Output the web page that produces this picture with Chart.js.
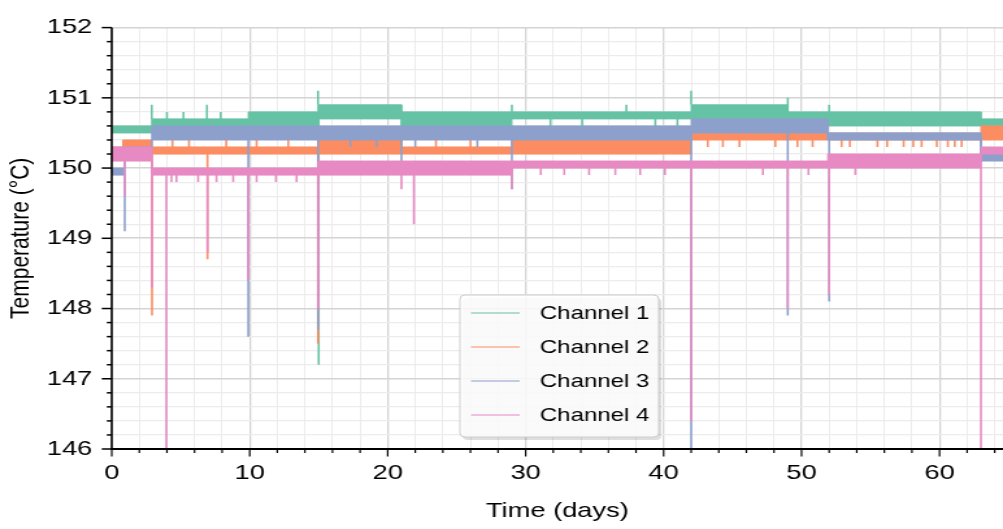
<!DOCTYPE html>
<html>
<head>
<meta charset="utf-8">
<script src="https://cdn.jsdelivr.net/npm/chart.js@4.4.1/dist/chart.umd.min.js"></script>
<style>
  html, body { margin: 0; padding: 0; background: #fff; overflow: hidden; }
  /* the reference picture is stretched sideways, so the canvas is too */
  #wrap { width: 772px; height: 529px; transform: scaleX(1.2992); transform-origin: 0 0; }
</style>
</head>
<body>
<div id="wrap"><canvas id="temps" width="772" height="529"></canvas></div>
<script>
const channelNames = ["Channel 1", "Channel 2", "Channel 3", "Channel 4"];
const channelColors = ["#66c2a5", "#fc8d62", "#8da0cb", "#e78ac3"];

// noise bands: [from day, to day, low degC, high degC]
const ch1Bands = [[0, 2.9, 150.5, 150.6], [2.9, 9.9, 150.6, 150.7], [9.9, 14.95, 150.6, 150.8],
  [14.95, 21, 150.7, 150.9], [21, 29, 150.6, 150.8], [29, 42, 150.7, 150.8],
  [42, 49, 150.7, 150.9], [49, 63, 150.6, 150.8], [63, 64.6, 150.6, 150.7]];
const ch2Bands = [[0, 0.8, 150.2, 150.3], [0.8, 2.9, 150.3, 150.4], [2.9, 9.9, 150.2, 150.3],
  [9.9, 14.95, 150.2, 150.3], [14.95, 21, 150.2, 150.4], [21, 29, 150.2, 150.3],
  [29, 42, 150.2, 150.4], [42, 63, 150.4, 150.5], [63, 64.6, 150.4, 150.6]];
const ch3Bands = [[0, 0.9, 149.9, 150.0], [0.9, 2.9, 150.2, 150.3], [2.9, 42, 150.4, 150.6],
  [42, 51.9, 150.5, 150.7], [51.9, 63, 150.4, 150.5], [63, 64.6, 150.1, 150.2]];
const ch4Bands = [[0, 2.9, 150.1, 150.3], [2.9, 14.95, 149.9, 150.0], [14.95, 29, 149.9, 150.1],
  [29, 42, 150.0, 150.1], [42, 49, 150.0, 150.1], [49, 51.9, 150.0, 150.1],
  [51.9, 63, 150.0, 150.2], [63, 64.6, 150.2, 150.3]];

// single excursions: [day, degC]
const ch1Spikes = [[2.9, 150.9], [4.0, 150.8], [5.2, 150.8], [6.9, 150.9], [7.9, 150.8], [14.95, 151.1],
  [15, 147.2], [29, 150.9], [31.8, 150.6], [34.1, 150.6], [37.3, 150.9], [39.4, 150.6], [41.0, 150.6],
  [42, 151.1], [49, 151.0], [52, 150.9]];
const ch2Spikes = [[2.92, 147.9], [4.4, 150.4], [5.6, 150.4], [6.94, 148.7], [8.3, 150.4], [10.5, 150.4],
  [12.8, 150.4], [14.95, 147.5], [23.5, 150.4], [26.0, 150.4], [43.2, 150.3], [44.3, 150.3], [45.5, 150.3],
  [48.1, 150.3], [49.7, 150.3], [50.8, 150.3], [52.9, 150.3], [53.5, 150.3], [55.5, 150.3], [56.2, 150.3],
  [57.4, 150.3], [58.1, 150.3], [58.7, 150.3], [59.8, 150.3], [60.6, 150.3], [61.1, 150.3], [61.6, 150.3]];
const ch3Spikes = [[0.94, 149.1], [9.9, 147.6], [14.95, 147.7], [17.3, 150.3], [19.2, 150.3], [21, 150.1],
  [22.0, 150.3], [26.5, 150.3], [29, 149.7], [42, 146.0], [49, 147.9], [52, 148.1]];
const ch4Spikes = [[0.94, 149.6], [2.92, 148.3], [3.96, 146.0], [4.33, 149.8], [4.69, 149.8], [6.26, 149.8],
  [6.94, 148.8], [7.59, 149.8], [8.8, 149.8], [9.9, 148.4], [10.5, 149.8], [11.9, 149.8], [13.4, 149.8],
  [14.96, 148.0], [21, 149.7], [21.9, 149.2], [29, 149.7], [31.1, 149.9], [32.8, 149.9], [34.6, 149.9],
  [36.5, 149.9], [38.3, 149.9], [40.1, 149.9], [42, 146.4], [47.2, 149.9], [49, 148.0], [50.5, 149.9],
  [52, 148.2], [53.9, 149.9], [63, 146.0]];

const xMin = 0, xMax = 64.6, xStep = 2;
const yMin = 146, yMax = 152, yStep = 0.2;

const channels = [
  {bands: ch1Bands, spikes: ch1Spikes},
  {bands: ch2Bands, spikes: ch2Spikes},
  {bands: ch3Bands, spikes: ch3Spikes},
  {bands: ch4Bands, spikes: ch4Spikes},
];

function bandLine(bands, k) {
  const pts = [];
  bands.forEach(b => {
    pts.push({x: b[0], y: b[k]});
    pts.push({x: b[1], y: b[k]});
  });
  return pts;
}

function spikeLine(bands, spikes) {
  const pts = [];
  spikes.forEach(s => {
    const b = bands.find(b => s[0] >= b[0] && s[0] < b[1]) || bands[bands.length - 1];
    const base = s[1] < b[2] ? b[2] : b[3];
    pts.push({x: s[0], y: base}, {x: s[0], y: s[1]}, {x: s[0], y: null});
  });
  return pts;
}

const datasets = [];
channels.forEach((c, i) => {
  const col = channelColors[i];
  const common = {borderColor: col, backgroundColor: col, pointRadius: 0, tension: 0,
    borderJoinStyle: "bevel", order: 40 - i * 10};
  datasets.push({...common, label: channelNames[i], data: bandLine(c.bands, 3), borderWidth: 1, fill: false});
  datasets.push({...common, label: channelNames[i] + " low", data: bandLine(c.bands, 2), borderWidth: 1, fill: "-1"});
  datasets.push({...common, label: channelNames[i] + " spikes", data: spikeLine(c.bands, c.spikes), borderWidth: 1.6, fill: false});
});

const isMajorX = v => Math.abs(v / 10 - Math.round(v / 10)) < 1e-6;
const isMajorY = v => Math.abs(v - Math.round(v)) < 1e-6;

// spines, outward ticks and the legend box
const axesPlugin = {
  id: "axesLook",
  afterDraw(chart) {
    const ctx = chart.ctx, a = chart.chartArea;
    const sx = chart.scales.x, sy = chart.scales.y;
    ctx.save();
    ctx.strokeStyle = "#000";
    ctx.lineWidth = 1.2;
    sx.ticks.forEach(t => {
      const px = sx.getPixelForValue(t.value);
      ctx.beginPath();
      ctx.moveTo(px, a.bottom);
      ctx.lineTo(px, a.bottom + (isMajorX(t.value) ? 7.5 : 4));
      ctx.stroke();
    });
    ctx.lineWidth = 1.5;
    sy.ticks.forEach(t => {
      const py = sy.getPixelForValue(t.value);
      ctx.beginPath();
      ctx.moveTo(a.left, py);
      ctx.lineTo(a.left - (isMajorY(t.value) ? 7.7 : 3.8), py);
      ctx.stroke();
    });
    ctx.lineWidth = 1.6;
    ctx.beginPath();
    ctx.moveTo(a.left, a.top);
    ctx.lineTo(a.left, a.bottom);
    ctx.stroke();
    ctx.lineWidth = 2;
    ctx.beginPath();
    ctx.moveTo(a.left - 0.8, a.bottom);
    ctx.lineTo(a.right, a.bottom);
    ctx.stroke();

    // legend
    const lx = 354, ly = 295, lw = 153, lh = 142;
    ctx.fillStyle = "rgba(0,0,0,0.13)";
    ctx.beginPath();
    ctx.roundRect(lx + 2, ly + 3, lw, lh, 4);
    ctx.fill();
    ctx.fillStyle = "rgba(255,255,255,0.85)";
    ctx.strokeStyle = "#cccccc";
    ctx.lineWidth = 1;
    ctx.beginPath();
    ctx.roundRect(lx, ly, lw, lh, 4);
    ctx.fill();
    ctx.stroke();
    ctx.font = "18.5px 'Liberation Sans', Arial, sans-serif";
    ctx.textBaseline = "middle";
    ctx.textAlign = "left";
    channelNames.forEach((name, i) => {
      const y = 313 + i * 34;
      ctx.strokeStyle = channelColors[i];
      ctx.lineWidth = 1.2;
      ctx.beginPath();
      ctx.moveTo(362.5, y);
      ctx.lineTo(400, y);
      ctx.stroke();
      ctx.fillStyle = "#000";
      ctx.fillText(name, 415.5, y + 1);
    });
    ctx.restore();
  }
};

const tickFont = {family: "'Liberation Sans', Arial, sans-serif", size: 21};

new Chart(document.getElementById("temps"), {
  type: "line",
  data: {datasets: datasets},
  options: {
    responsive: false,
    devicePixelRatio: 1,
    animation: false,
    events: [],
    layout: {padding: {top: 20, right: 0, left: 0, bottom: 0}},
    plugins: {legend: {display: false}, tooltip: {enabled: false}},
    scales: {
      x: {
        type: "linear",
        min: xMin,
        max: xMax,
        afterFit(scale) {
          scale.height = 80;
          scale.paddingLeft = 0;
          scale.paddingRight = 0;
        },
        border: {display: false},
        grid: {
          drawTicks: false,
          color: c => isMajorX(c.tick.value) ? "#d4d4d4" : "#ececec",
          lineWidth: c => isMajorX(c.tick.value) ? 1.3 : 1.0,
        },
        ticks: {
          stepSize: xStep,
          includeBounds: false,
          autoSkip: false,
          maxRotation: 0,
          minRotation: 0,
          padding: 12,
          color: "#000",
          font: tickFont,
          callback: v => isMajorX(v) ? String(Math.round(v)) : "",
        },
        title: {display: true, text: "Time (days)", color: "#000", font: tickFont, padding: 5},
      },
      y: {
        min: yMin,
        max: yMax,
        afterFit(scale) { scale.width = 86; },
        border: {display: false},
        grid: {
          drawTicks: false,
          color: c => isMajorY(c.tick.value) ? "#d4d4d4" : "#ececec",
          lineWidth: c => isMajorY(c.tick.value) ? 1.6 : 1.2,
        },
        ticks: {
          stepSize: yStep,
          maxTicksLimit: 100,
          includeBounds: false,
          autoSkip: false,
          padding: 15,
          color: "#000",
          font: tickFont,
          callback: v => isMajorY(v) ? String(Math.round(v)) : "",
        },
        title: {display: true, text: "Temperature (°C)", color: "#000", font: tickFont, padding: 4},
      },
    },
  },
  plugins: [axesPlugin],
});
</script>
</body>
</html>
